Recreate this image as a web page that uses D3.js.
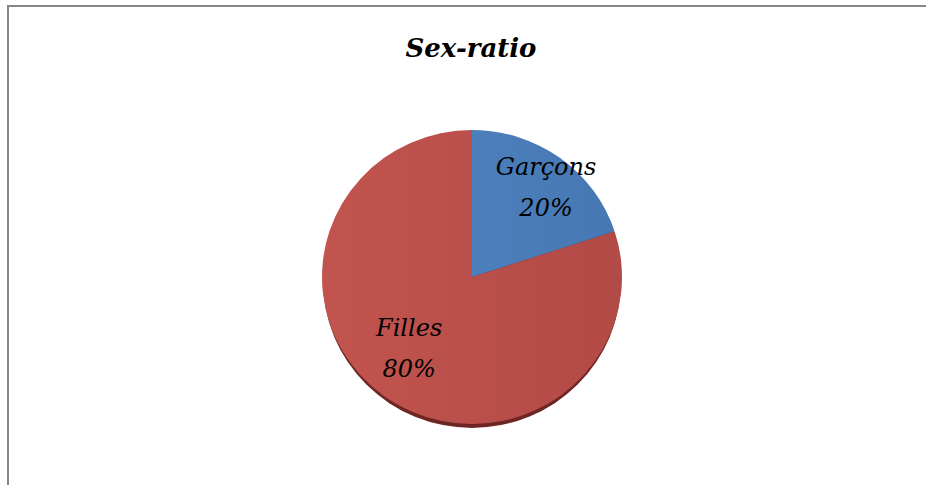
<!DOCTYPE html>
<html><head><meta charset="utf-8">
<script src="https://cdn.jsdelivr.net/npm/d3@7"></script>
<style>body{margin:0;background:#fff;} svg{display:block;}</style>
</head><body>
<svg id="chart" width="926" height="485"></svg>
<script>
const title = "Sex-ratio";
const categories = ["Garçons", "Filles"];
const values = [20, 80];
const percentLabels = ["20%", "80%"];

const svg = d3.select("#chart");
const W = 926, H = 485;

// frame
svg.append("line").attr("x1",8).attr("y1",6).attr("x2",8).attr("y2",H).attr("stroke","#878787").attr("stroke-width",2);
svg.append("line").attr("x1",7).attr("y1",6).attr("x2",W).attr("y2",6).attr("stroke","#878787").attr("stroke-width",2);

svg.append("text").attr("x",471).attr("y",57).attr("text-anchor","middle")
  .attr("font-family","DejaVu Serif").attr("font-style","italic").attr("font-weight","bold")
  .attr("font-size",26).attr("fill","#000").text(title);

const defs = svg.append("defs");
const grads = [["gBlue","#5187c4","#4677b2"],["gRed","#c2544f","#b24a46"]];
grads.forEach(([id,c1,c2])=>{
  const g = defs.append("linearGradient").attr("id",id).attr("gradientUnits","userSpaceOnUse")
    .attr("x1",-150).attr("y1",0).attr("x2",150).attr("y2",0);
  g.append("stop").attr("offset","0%").attr("stop-color",c1);
  g.append("stop").attr("offset","100%").attr("stop-color",c2);
});
const fills = ["url(#gBlue)","url(#gRed)"];

const R = 150;
const cx = 472, cy = 277, sy = 0.98;
const color = d3.scaleOrdinal().domain(categories).range(fills);

const pie = d3.pie().sort(null).value(d=>d.v);
const data = categories.map((c,i)=>({c, v:values[i], p:percentLabels[i]}));
const arcs = pie(data);
const arc = d3.arc().innerRadius(0).outerRadius(R);

const g = svg.append("g").attr("transform",`translate(${cx},${cy}) scale(1,${sy})`);
// 3D-ish rim shadow
g.append("ellipse").attr("cx",0).attr("cy",4).attr("rx",R-1).attr("ry",R).attr("fill","#6e2624");
g.selectAll("path.slice").data(arcs).enter().append("path").attr("class","slice")
  .attr("d",arc).attr("fill",d=>color(d.data.c));

const labelPos = d => {
  const frac = (d.endAngle-d.startAngle)/(2*Math.PI);
  const r = frac < 0.5 ? R*0.75 : R*0.66;
  const a = (d.startAngle+d.endAngle)/2 + (frac < 0.5 ? 0.09 : 0.06);
  return [r*Math.sin(a), -r*Math.cos(a)];
};
const lg = svg.append("g").attr("transform",`translate(${cx},${cy})`);
arcs.forEach(d=>{
  const [x,y] = labelPos(d);
  const t = lg.append("text").attr("text-anchor","middle")
    .attr("font-family","DejaVu Serif").attr("font-style","italic").attr("font-size",24).attr("fill","#000");
  t.append("tspan").attr("x",x).attr("y",y-17).text(d.data.c);
  t.append("tspan").attr("x",x).attr("y",y+24).text(d.data.p);
});
</script>
</body></html>
